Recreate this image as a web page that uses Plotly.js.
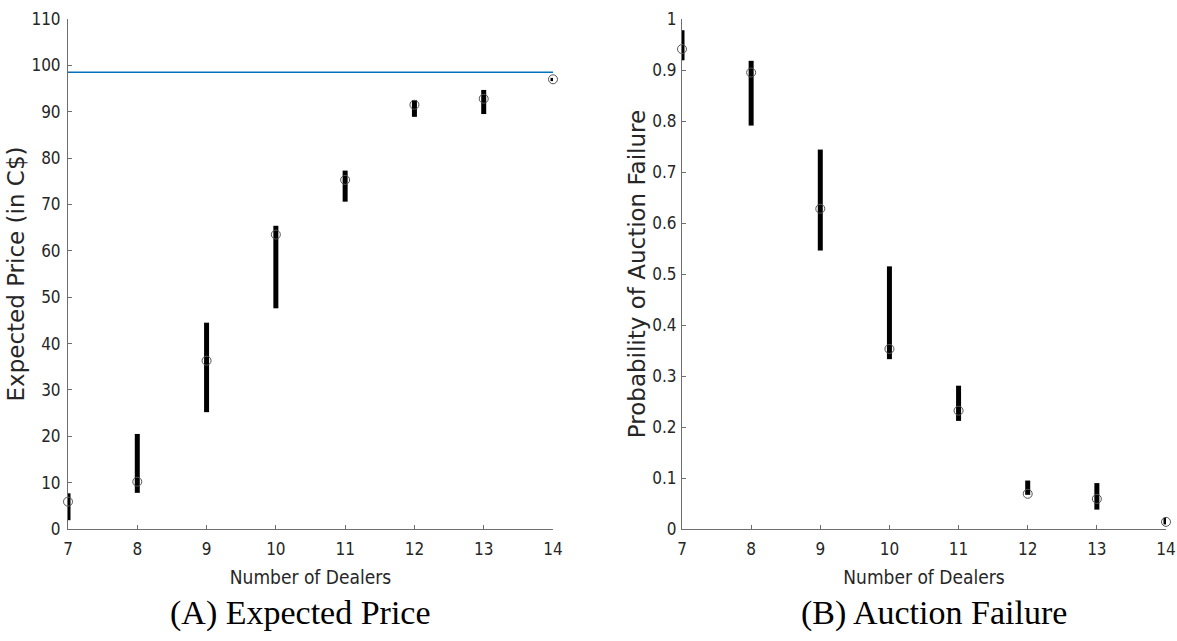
<!DOCTYPE html>
<html>
<head>
<meta charset="utf-8">
<script src="https://cdn.plot.ly/plotly-3.0.1.min.js"></script>
<style>html,body{margin:0;padding:0;background:#fff;}#chart{width:1177px;height:641px;}</style>
</head>
<body>
<div id="chart"></div>
<script>
// Number of dealers
const dealers = [7, 8, 9, 10, 11, 12, 13, 14];

// (A) Expected price (C$): point estimate and interval bounds
const priceMid = [5.9, 10.2, 36.3, 63.5, 75.3, 91.5, 92.8, 97.0];
const priceLow = [1.9, 7.8, 25.2, 47.6, 70.6, 88.9, 89.5, 96.6];
const priceHigh = [7.7, 20.5, 44.5, 65.4, 77.3, 92.5, 94.7, 97.3];
const priceRefLevel = 98.5;

// (B) Probability of auction failure: point estimate and interval bounds
const failMid = [0.941, 0.895, 0.628, 0.353, 0.232, 0.069, 0.059, 0.014];
const failLow = [0.919, 0.791, 0.546, 0.333, 0.212, 0.067, 0.038, 0.009];
const failHigh = [0.978, 0.918, 0.744, 0.515, 0.281, 0.095, 0.090, 0.022];

// Tick labels
const priceTicks = [0, 10, 20, 30, 40, 50, 60, 70, 80, 90, 100, 110];
const failTicks = [0, 0.1, 0.2, 0.3, 0.4, 0.5, 0.6, 0.7, 0.8, 0.9, 1];

const xTitle = 'Number of Dealers';
const yTitleA = 'Expected Price (in C$)';
const yTitleB = 'Probability of Auction Failure';
const captionA = '(A) Expected Price';
const captionB = '(B) Auction Failure';

function diff(a, b) { return a.map((v, i) => v - b[i]); }

const markerStyle = { symbol: 'circle-open', size: 9, color: '#555555', line: { width: 1, color: '#555555' } };
const errStyle = { type: 'data', symmetric: false, color: '#000000', thickness: 5, width: 0 };

const traces = [
  {
    x: [dealers[0], dealers[dealers.length - 1]],
    y: [priceRefLevel, priceRefLevel],
    mode: 'lines', line: { color: '#0072BD', width: 1.5 },
    xaxis: 'x', yaxis: 'y', showlegend: false, hoverinfo: 'skip', cliponaxis: false
  },
  {
    x: dealers, y: priceMid, mode: 'markers',
    marker: markerStyle,
    error_y: Object.assign({}, errStyle, { array: diff(priceHigh, priceMid), arrayminus: diff(priceMid, priceLow) }),
    xaxis: 'x', yaxis: 'y', showlegend: false, cliponaxis: false
  },
  {
    x: dealers, y: failMid, mode: 'markers',
    marker: markerStyle,
    error_y: Object.assign({}, errStyle, { array: diff(failHigh, failMid), arrayminus: diff(failMid, failLow) }),
    xaxis: 'x2', yaxis: 'y2', showlegend: false, cliponaxis: false
  }
];

const tickFont = { family: 'DejaVu Sans Condensed, DejaVu Sans, sans-serif', size: 17, color: '#262626' };
const xTitleFont = { family: 'DejaVu Sans Condensed, DejaVu Sans, sans-serif', size: 19, color: '#262626' };
const yTitleFont = { family: 'DejaVu Sans, sans-serif', size: 23, color: '#262626' };

const axisCommon = {
  showline: true, linecolor: '#6e6e6e', linewidth: 1,
  ticks: 'inside', ticklen: 4, tickcolor: '#6e6e6e', tickwidth: 1,
  showgrid: false, zeroline: false, tickfont: tickFont, mirror: false, fixedrange: true,
  ticklabeloverflow: 'allow'
};

const yBottom = (641 - 529) / 641, yTop = (641 - 19) / 641;

const layout = {
  width: 1177, height: 641,
  margin: { l: 0, r: 0, t: 0, b: 0 },
  paper_bgcolor: '#ffffff', plot_bgcolor: '#ffffff',
  showlegend: false,
  xaxis: Object.assign({}, axisCommon, {
    domain: [68 / 1177, 553 / 1177], range: [7, 14], tickvals: dealers, ticktext: dealers.map(String),
    ticklabelstandoff: 5,
    anchor: 'y', title: { text: xTitle, font: xTitleFont, standoff: 12 }
  }),
  yaxis: Object.assign({}, axisCommon, {
    domain: [yBottom, yTop], range: [0, 110], tickvals: priceTicks, ticktext: priceTicks.map(String),
    ticklabelstandoff: 3,
    anchor: 'x', title: { text: yTitleA, font: yTitleFont, standoff: 0 }
  }),
  xaxis2: Object.assign({}, axisCommon, {
    domain: [682 / 1177, 1166 / 1177], range: [7, 14], tickvals: dealers, ticktext: dealers.map(String),
    ticklabelstandoff: 5,
    anchor: 'y2', title: { text: xTitle, font: xTitleFont, standoff: 12 }
  }),
  yaxis2: Object.assign({}, axisCommon, {
    domain: [yBottom, yTop], range: [0, 1], tickvals: failTicks, ticktext: failTicks.map(String),
    ticklabelstandoff: 1,
    anchor: 'x2', title: { text: yTitleB, font: yTitleFont, standoff: 0 }
  }),
  annotations: [
    { text: captionA, xref: 'paper', yref: 'paper', x: 300 / 1177, y: (641 - 613) / 641, xanchor: 'center', yanchor: 'middle', showarrow: false,
      font: { family: 'Liberation Serif, serif', size: 34, color: '#000000' } },
    { text: captionB, xref: 'paper', yref: 'paper', x: 934 / 1177, y: (641 - 613) / 641, xanchor: 'center', yanchor: 'middle', showarrow: false,
      font: { family: 'Liberation Serif, serif', size: 34, color: '#000000' } }
  ]
};

Plotly.newPlot('chart', traces, layout, { displayModeBar: false, staticPlot: true });
</script>
</body>
</html>
